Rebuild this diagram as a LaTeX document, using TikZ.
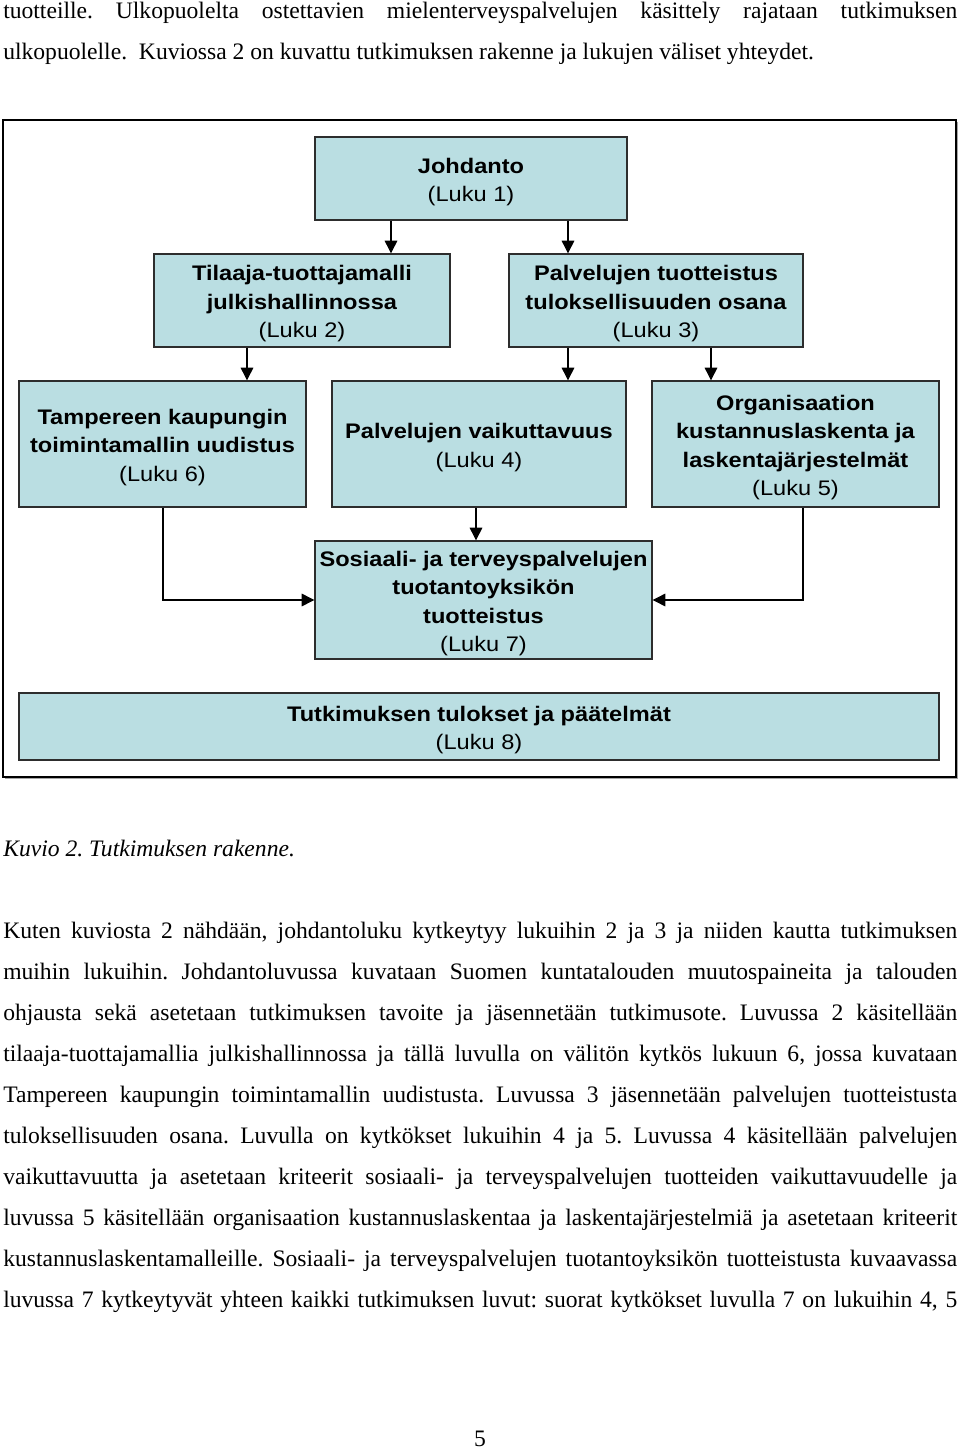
\documentclass[tikz,border=0pt]{standalone}
\usepackage{fontspec}
\setmainfont{Liberation Serif}
\newfontfamily\boxfont[FakeStretch=1.12]{Liberation Sans}
\usetikzlibrary{arrows.meta}
\definecolor{boxfill}{RGB}{186,222,226}
\definecolor{boxline}{RGB}{45,45,45}
\tikzset{
  chbox/.style={draw=boxline, line width=1pt, fill=boxfill, inner sep=0pt},
  boxtext/.style={inner sep=0pt, align=center, yshift=-2.6pt,
    font=\boxfont\fontsize{15.8}{21.4}\selectfont},
  arr/.style={line width=0.8pt, -{Triangle[length=9.5pt,width=9.5pt]}},
  bodyline/.style={anchor=base west, inner sep=0pt, font=\frenchspacing\fontsize{17.7}{20}\selectfont},
}
\newcommand{\jline}[1]{\makebox[715.5pt][s]{#1}}
\begin{document}
\frenchspacing
\begin{tikzpicture}[x=0.75pt,y=-0.75pt]
\useasboundingbox (0,0) rectangle (960,1451);
\fill[white] (0,0) rectangle (960,1451);

% text above the figure
\node[bodyline] (t1) at (3,19) {\jline{tuotteille. Ulkopuolelta ostettavien mielenterveyspalvelujen käsittely rajataan tutkimuksen}};
\node[bodyline] (t2) at (3,60) {ulkopuolelle.\ \ Kuviossa 2 on kuvattu tutkimuksen rakenne ja lukujen väliset yhteydet.};

% figure frame
\fill[gray!70] (5,122) rectangle (958,779);
\node[draw=black, fill=white, line width=0.9pt, inner sep=0pt, minimum width=953*0.75pt, minimum height=657*0.75pt] (frame) at (479.5,448.5) {};

% boxes
\node[chbox, minimum width=312*0.75pt, minimum height=83*0.75pt] (johd) at (471,178.5) {};
\node[boxtext] (johdT) at (johd.center) {\textbf{Johdanto}\\(Luku 1)};
\node[chbox, minimum width=296*0.75pt, minimum height=93*0.75pt] (til) at (302,300.5) {};
\node[boxtext] (tilT) at (til.center) {\textbf{Tilaaja-tuottajamalli}\\\textbf{julkishallinnossa}\\(Luku 2)};
\node[chbox, minimum width=294*0.75pt, minimum height=93*0.75pt] (tuot) at (656,300.5) {};
\node[boxtext] (tuotT) at (tuot.center) {\textbf{Palvelujen tuotteistus}\\\textbf{tuloksellisuuden osana}\\(Luku 3)};
\node[chbox, minimum width=287*0.75pt, minimum height=126*0.75pt] (tam) at (162.5,444) {};
\node[boxtext] (tamT) at (tam.center) {\textbf{Tampereen kaupungin}\\\textbf{toimintamallin uudistus}\\(Luku 6)};
\node[chbox, minimum width=294*0.75pt, minimum height=126*0.75pt] (vai) at (479,444) {};
\node[boxtext] (vaiT) at (vai.center) {\textbf{Palvelujen vaikuttavuus}\\(Luku 4)};
\node[chbox, minimum width=287*0.75pt, minimum height=126*0.75pt] (org) at (795.5,444) {};
\node[boxtext] (orgT) at (org.center) {\textbf{Organisaation}\\\textbf{kustannuslaskenta ja}\\\textbf{laskentajärjestelmät}\\(Luku 5)};
\node[chbox, minimum width=337*0.75pt, minimum height=118*0.75pt] (sos) at (483.5,600) {};
\node[boxtext] (sosT) at (sos.center) {\textbf{Sosiaali- ja terveyspalvelujen}\\\textbf{tuotantoyksikön}\\\textbf{tuotteistus}\\(Luku 7)};
\node[chbox, minimum width=920*0.75pt, minimum height=67*0.75pt] (tul) at (479,726.5) {};
\node[boxtext] (tulT) at (tul.center) {\textbf{Tutkimuksen tulokset ja päätelmät}\\(Luku 8)};

% connector x positions
\coordinate (xa) at (391,0);
\coordinate (xb) at (568,0);
\coordinate (xc) at (247,0);
\coordinate (xd) at (711,0);
\coordinate (xe) at (476,0);
\coordinate (xf) at (163,0);
\coordinate (xg) at (803,0);

\draw[arr] (johd.south -| xa) -- (til.north -| xa);
\draw[arr] (johd.south -| xb) -- (tuot.north -| xb);
\draw[arr] (til.south -| xc) -- (tam.north -| xc);
\draw[arr] (tuot.south -| xb) -- (vai.north -| xb);
\draw[arr] (tuot.south -| xd) -- (org.north -| xd);
\draw[arr] (vai.south -| xe) -- (sos.north -| xe);
\draw[arr] (tam.south -| xf) |- (sos.west);
\draw[arr] (org.south -| xg) |- (sos.east);

% caption
\node[bodyline] (cap) at (3,856) {\textit{Kuvio 2. Tutkimuksen rakenne.}};

% paragraph
\node[bodyline] (p1) at (3,938) {\jline{Kuten kuviosta 2 nähdään, johdantoluku kytkeytyy lukuihin 2 ja 3 ja niiden kautta tutkimuksen}};
\node[bodyline] (p2) at (3,979) {\jline{muihin lukuihin. Johdantoluvussa kuvataan Suomen kuntatalouden muutospaineita ja talouden}};
\node[bodyline] (p3) at (3,1020) {\jline{ohjausta sekä asetetaan tutkimuksen tavoite ja jäsennetään tutkimusote. Luvussa 2 käsitellään}};
\node[bodyline] (p4) at (3,1061) {\jline{tilaaja-tuottajamallia julkishallinnossa ja tällä luvulla on välitön kytkös lukuun 6, jossa kuvataan}};
\node[bodyline] (p5) at (3,1102) {\jline{Tampereen kaupungin toimintamallin uudistusta. Luvussa 3 jäsennetään palvelujen tuotteistusta}};
\node[bodyline] (p6) at (3,1143) {\jline{tuloksellisuuden osana. Luvulla on kytkökset lukuihin 4 ja 5. Luvussa 4 käsitellään palvelujen}};
\node[bodyline] (p7) at (3,1184) {\jline{vaikuttavuutta ja asetetaan kriteerit sosiaali- ja terveyspalvelujen tuotteiden vaikuttavuudelle ja}};
\node[bodyline] (p8) at (3,1225) {\jline{luvussa 5 käsitellään organisaation kustannuslaskentaa ja laskentajärjestelmiä ja asetetaan kriteerit}};
\node[bodyline] (p9) at (3,1266) {\jline{kustannuslaskentamalleille. Sosiaali- ja terveyspalvelujen tuotantoyksikön tuotteistusta kuvaavassa}};
\node[bodyline] (p10) at (3,1307) {\jline{luvussa 7 kytkeytyvät yhteen kaikki tutkimuksen luvut: suorat kytkökset luvulla 7 on lukuihin 4, 5}};

% page number
\node[anchor=base, inner sep=0pt, font=\fontsize{17.7}{20}\selectfont] (pg) at (480,1446) {5};
\end{tikzpicture}
\end{document}
